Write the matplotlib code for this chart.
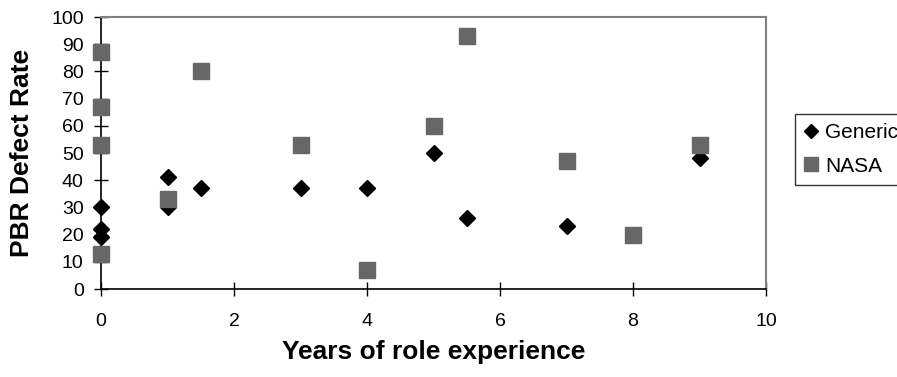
import matplotlib
matplotlib.use("Agg")
import matplotlib.pyplot as plt
from matplotlib.lines import Line2D

plt.rcParams["font.family"] = ["Liberation Sans", "DejaVu Sans"]

# years of role experience vs PBR defect rate, per reviewer group
generic_years = [0, 0, 0, 1, 1, 1.5, 3, 4, 5, 5.5, 7, 9]
generic_rate = [30, 22, 19, 41, 30, 37, 37, 37, 50, 26, 23, 48]

nasa_years = [0, 0, 0, 0, 1, 1.5, 3, 4, 5, 5.5, 7, 8, 9]
nasa_rate = [87, 67, 53, 13, 33, 80, 53, 7, 60, 93, 47, 20, 53]

x_ticks = [0, 2, 4, 6, 8, 10]
y_ticks = list(range(0, 101, 10))

fig = plt.figure(figsize=(8.97, 3.77), dpi=100)
ax = fig.add_axes([101 / 897, 1 - 289 / 377, 665 / 897, 272 / 377])

ax.plot(generic_years, generic_rate, linestyle="none", marker="D", ms=7.8,
        color="black", mec="black", clip_on=False, zorder=3)
ax.plot(nasa_years, nasa_rate, linestyle="none", marker="s", ms=11.5,
        color="#676767", mec="#676767", clip_on=False, zorder=4)

ax.set_xlim(0, 10)
ax.set_ylim(0, 100)
ax.set_xticks(x_ticks)
ax.set_yticks(y_ticks)
ax.tick_params(direction="inout", length=10, width=1, labelsize=14,
               color="black")
ax.tick_params(axis="x", pad=12)
ax.tick_params(axis="y", pad=7.5)

for side in ("top", "right"):
    ax.spines[side].set_color("#808080")
    ax.spines[side].set_linewidth(1.5)
for side in ("left", "bottom"):
    ax.spines[side].set_color("black")
    ax.spines[side].set_linewidth(1.2)

ax.set_xlabel("Years of role experience", fontsize=19, fontweight="bold",
              va="center")
ax.xaxis.set_label_coords(0.5, (289 - 352) / 272)
ax.set_ylabel("PBR Defect Rate", fontsize=19, fontweight="bold",
              va="center")
ax.yaxis.set_label_coords((22 - 101) / 665, 0.5)

handles = [
    Line2D([], [], linestyle="none", marker="D", ms=7.2, color="black"),
    Line2D([], [], linestyle="none", marker="s", ms=10.5, color="#676767"),
]
leg = fig.legend(handles, ["Generic", "NASA"], loc="upper left",
                 bbox_to_anchor=(795 / 897, 1 - 114 / 377),
                 frameon=True, fancybox=False, fontsize=15,
                 handlelength=0.63, handletextpad=0.35, borderpad=0.45,
                 labelspacing=0.68, borderaxespad=0)
leg.get_frame().set_edgecolor("black")
leg.get_frame().set_linewidth(1)

fig.savefig("out.png", dpi=100)
